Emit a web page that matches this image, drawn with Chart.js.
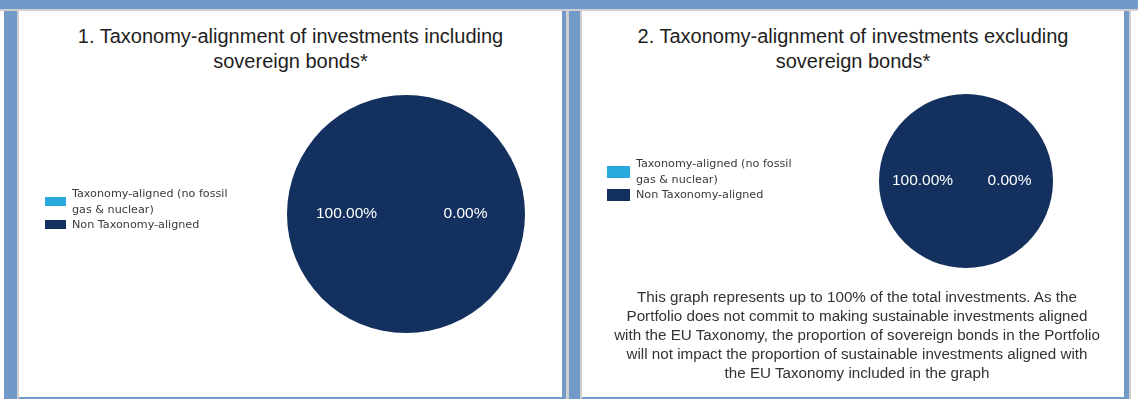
<!DOCTYPE html>
<html>
<head>
<meta charset="utf-8">
<script src="https://cdn.jsdelivr.net/npm/chart.js@4.4.1/dist/chart.umd.min.js"></script>
<style>
    body { margin: 0; width: 1138px; height: 399px; position: relative; overflow: hidden; background: #fff;
           font-family: "Liberation Sans", Arial, sans-serif; }
    .abs { position: absolute; }
    .blue { background: #729ac8; }
    .grey { background: #cfcfcf; }
    .panel { background: #fff; }
    .title { position: absolute; text-align: center; font-size: 20px; line-height: 25px; color: #1e1e1e; }
    .note { position: absolute; text-align: center; font-size: 15.2px; line-height: 19px; color: #333; }
    .legend { position: absolute; font-family: "DejaVu Sans", sans-serif; font-size: 11.2px; line-height: 15.5px; color: #3a3a3a; }
    .legend .item { display: flex; align-items: center; }
    .legend .box { flex: none; margin-right: 6px; }
    .chart-wrap { position: absolute; }
</style>
</head>
<body>
<div class="abs blue" style="left:0;top:0;width:1138px;height:9px"></div>
<div class="abs grey" style="left:0;top:9px;width:1138px;height:2px"></div>
<div class="abs blue" style="left:4px;top:11px;width:1127px;height:388px"></div>
<div class="abs grey" style="left:17px;top:11px;width:2px;height:388px"></div>
<div class="abs panel" style="left:19px;top:11px;width:543px;height:386px"></div>
<div class="abs grey" style="left:566px;top:11px;width:3px;height:388px"></div>
<div class="abs grey" style="left:580px;top:11px;width:2px;height:388px"></div>
<div class="abs panel" style="left:582px;top:11px;width:542px;height:386px"></div>
<div class="abs grey" style="left:1129px;top:11px;width:2px;height:388px"></div>

<div class="title" style="left:19px;top:24px;width:543px">1. Taxonomy-alignment of investments including<br>sovereign bonds*</div>
<div class="title" style="left:582px;top:24px;width:542px">2. Taxonomy-alignment of investments excluding<br>sovereign bonds*</div>

<div class="chart-wrap" style="left:19px;top:12px;width:543px;height:385px"><canvas id="pieIncl"></canvas></div>
<div class="chart-wrap" style="left:582px;top:12px;width:542px;height:385px"><canvas id="pieExcl"></canvas></div>

<div class="legend" id="legendIncl" style="left:45px;top:186px"></div>
<div class="legend" id="legendExcl" style="left:607px;top:156px"></div>

<div class="note" style="left:557px;top:287px;width:600px">This graph represents up to 100% of the total investments. As the<br>Portfolio does not commit to making sustainable investments aligned<br>with the EU Taxonomy, the proportion of sovereign bonds in the Portfolio<br>will not impact the proportion of sustainable investments aligned with<br>the EU Taxonomy included in the graph</div>

<script>
const categories = [['Taxonomy-aligned (no fossil', 'gas & nuclear)'], 'Non Taxonomy-aligned'];
const sliceColors = ['#29a9db', '#13305e'];
const inclSovereign = [0, 100];
const exclSovereign = [0, 100];

// white % labels, 100% slice on the left, small slice on the right
const sliceLabels = {
    id: 'sliceLabels',
    afterDatasetsDraw(chart) {
        const ctx = chart.ctx;
        const data = chart.data.datasets[0].data;
        const total = data.reduce((a, b) => a + b, 0);
        ctx.save();
        ctx.fillStyle = '#ffffff';
        ctx.font = '15.5px "Liberation Sans", Arial, sans-serif';
        ctx.textAlign = 'center';
        ctx.textBaseline = 'middle';
        chart.getDatasetMeta(0).data.forEach((arc, i) => {
            const p = arc.getProps(['x', 'y', 'outerRadius'], true);
            const side = data[i] >= total / 2 ? -1 : 1;
            ctx.fillText((data[i] / total * 100).toFixed(2) + '%', p.x + side * p.outerRadius * 0.5, p.y);
        });
        ctx.restore();
    }
};

function buildLegend(chart, elId) {
    const opts = chart.options.plugins.legend.labels;
    const el = document.getElementById(elId);
    opts.generateLabels(chart).forEach(item => {
        const row = document.createElement('div');
        row.className = 'item';
        const box = document.createElement('span');
        box.className = 'box';
        box.style.width = opts.boxWidth + 'px';
        box.style.height = opts.boxHeight + 'px';
        box.style.background = item.fillStyle;
        const txt = document.createElement('span');
        txt.innerHTML = [].concat(item.text).join('<br>');
        row.appendChild(box);
        row.appendChild(txt);
        el.appendChild(row);
    });
}

function makePie(canvasId, values, padding, boxW, boxH) {
    return new Chart(document.getElementById(canvasId), {
        type: 'pie',
        data: {
            labels: categories,
            datasets: [{
                data: values,
                backgroundColor: sliceColors,
                borderWidth: 0
            }]
        },
        options: {
            responsive: true,
            maintainAspectRatio: false,
            animation: false,
            layout: { padding: padding },
            plugins: {
                legend: { display: false, labels: { boxWidth: boxW, boxHeight: boxH } },
                tooltip: { enabled: false }
            }
        },
        plugins: [sliceLabels]
    });
}

const chartIncl = makePie('pieIncl', inclSovereign, { left: 268, right: 37, top: 83, bottom: 64 }, 21, 9);
const chartExcl = makePie('pieExcl', exclSovereign, { left: 297, right: 71, top: 82, bottom: 129 }, 23, 12);
buildLegend(chartIncl, 'legendIncl');
buildLegend(chartExcl, 'legendExcl');
</script>
</body>
</html>
